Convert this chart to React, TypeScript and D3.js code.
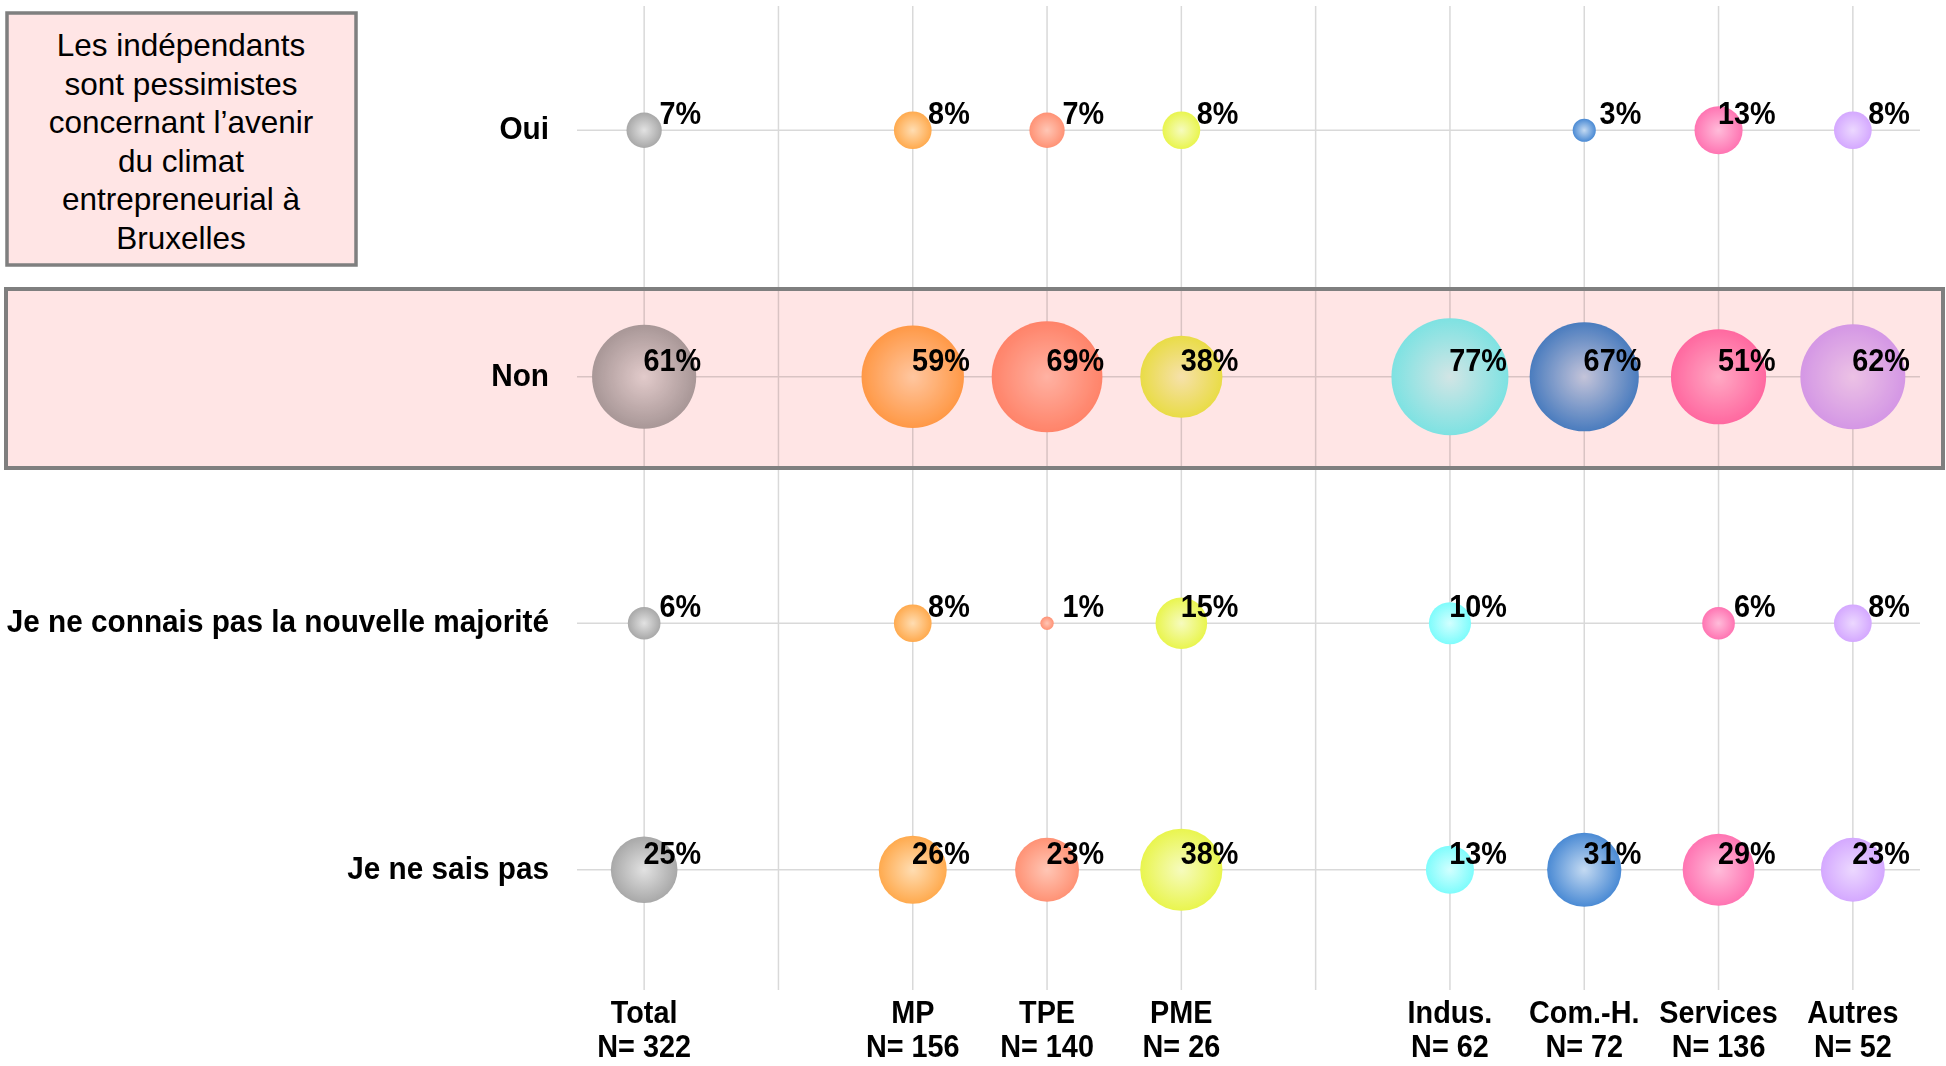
import React from "react";
import * as d3 from "d3";

const rows = ["Oui", "Non", "Je ne connais pas la nouvelle majorité", "Je ne sais pas"];
const slots = ["Total", "gap1", "MP", "TPE", "PME", "gap2", "Indus.", "Com.-H.", "Services", "Autres"];
const categories = ["Total", "MP", "TPE", "PME", "Indus.", "Com.-H.", "Services", "Autres"];
const sampleSizes = [322, 156, 140, 26, 62, 72, 136, 52];
const ouiValues: (number | null)[] = [7, 8, 7, 8, null, 3, 13, 8];
const nonValues: (number | null)[] = [61, 59, 69, 38, 77, 67, 51, 62];
const jncValues: (number | null)[] = [6, 8, 1, 15, 10, null, 6, 8];
const jnspValues: (number | null)[] = [25, 26, 23, 38, 13, 31, 29, 23];
const seriesByRow = [ouiValues, nonValues, jncValues, jnspValues];

const baseColors = ["#A8A8A8", "#FFAA4E", "#FF9275", "#E9F54E", "#7EFCFC", "#4A8AD4", "#FF74B2", "#D4A8FF"];
const lightColors = ["#E2E2E2", "#FFDDB2", "#FFC6B5", "#F6FBBE", "#D2FFFF", "#C4DAF2", "#FFBCDA", "#ECD8FF"];

const titleLines = [
  "Les indépendants",
  "sont pessimistes",
  "concernant l\u2019avenir",
  "du climat",
  "entrepreneurial à",
  "Bruxelles",
];

const W = 1946;
const H = 1066;
const FONT = "'Liberation Sans', Arial, sans-serif";

export default function App() {
  const x = d3.scaleBand<string>().domain(slots).range([577, 1920]);
  const y = d3.scaleBand<string>().domain(rows).range([7, 993]);
  const cx = (c: string) => (x(c) as number) + x.bandwidth() / 2;
  const cy = (r: string) => (y(r) as number) + y.bandwidth() / 2;
  const rScale = d3.scaleSqrt().domain([0, 77]).range([0, 58.5]);

  return (
    <svg
      width={W}
      height={H}
      style={{ position: "absolute", left: 0, top: 0, display: "block", background: "#fff" }}
    >
      <defs>
        {categories.map((c, i) => (
          <radialGradient key={c} id={`grad${i}`} cx="50%" cy="50%" r="50%">
            <stop offset="0%" stopColor={lightColors[i]} />
            <stop offset="100%" stopColor={baseColors[i]} />
          </radialGradient>
        ))}
      </defs>
      <rect x={0} y={0} width={W} height={H} fill="#fff" />

      {/* grid */}
      {slots.map((s) => (
        <line key={s} x1={cx(s)} x2={cx(s)} y1={6} y2={990} stroke="#D9D9D9" strokeWidth={1.5} />
      ))}
      {rows.map((r) => (
        <line key={r} x1={577} x2={1920} y1={cy(r)} y2={cy(r)} stroke="#D9D9D9" strokeWidth={1.5} />
      ))}

      {/* bubbles */}
      {rows.map((r, ri) =>
        categories.map((c, ci) => {
          const v = seriesByRow[ri][ci];
          if (v == null) return null;
          return (
            <circle key={`${r}-${c}`} cx={cx(c)} cy={cy(r)} r={rScale(v)} fill={`url(#grad${ci})`} />
          );
        })
      )}

      {/* value labels */}
      {rows.map((r, ri) =>
        categories.map((c, ci) => {
          const v = seriesByRow[ri][ci];
          if (v == null) return null;
          return (
            <text
              key={`t-${r}-${c}`}
              transform={`translate(${cx(c) + 57},${cy(r) - 6}) scale(0.9,1)`}
              textAnchor="end"
              fontFamily={FONT}
              fontWeight="bold"
              fontSize={32}
              fill="#000"
            >
              {`${v}%`}
            </text>
          );
        })
      )}

      {/* row labels */}
      {rows.map((r) => (
        <text
          key={`rl-${r}`}
          transform={`translate(549,${cy(r) + 9}) scale(0.93,1)`}
          textAnchor="end"
          fontFamily={FONT}
          fontWeight="bold"
          fontSize={32}
          fill="#000"
        >
          {r}
        </text>
      ))}

      {/* category labels */}
      {categories.map((c, i) => (
        <g key={`cl-${c}`}>
          <text
            transform={`translate(${cx(c)},1023) scale(0.93,1)`}
            textAnchor="middle"
            fontFamily={FONT}
            fontWeight="bold"
            fontSize={31}
            fill="#000"
          >
            {c}
          </text>
          <text
            transform={`translate(${cx(c)},1057) scale(0.93,1)`}
            textAnchor="middle"
            fontFamily={FONT}
            fontWeight="bold"
            fontSize={31}
            fill="#000"
          >
            {`N= ${sampleSizes[i]}`}
          </text>
        </g>
      ))}

      {/* highlight box over "Non" row */}
      <rect
        x={6}
        y={289}
        width={1937}
        height={179}
        fill="#FFE5E5"
        style={{ mixBlendMode: "multiply" }}
      />
      <rect x={6} y={289} width={1937} height={179} fill="none" stroke="#7F7F7F" strokeWidth={4} />

      {/* title box */}
      <rect x={7} y={13} width={349} height={252} fill="#FFE5E5" stroke="#7F7F7F" strokeWidth={3.5} />
      {titleLines.map((t, i) => (
        <text
          key={t}
          x={181}
          y={56 + i * 38.5}
          textAnchor="middle"
          fontFamily={FONT}
          fontSize={31.5}
          fill="#000"
        >
          {t}
        </text>
      ))}
    </svg>
  );
}
